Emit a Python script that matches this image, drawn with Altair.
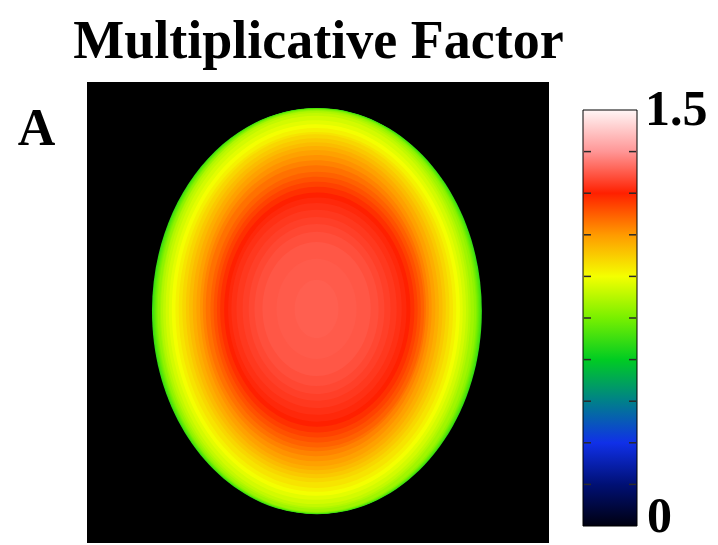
import altair as alt
import pandas as pd

# Colour map of the colour bar (value -> colour)
cmap_values = [0.0, 0.15, 0.30, 0.45, 0.60, 0.75, 0.90, 1.05, 1.20, 1.35, 1.50]
cmap_colors = ["#000010", "#001075", "#1030e8", "#00808a", "#00cc22", "#78f000",
               "#f4ff00", "#ff9a00", "#ff2000", "#ff9696", "#fff6f6"]
bar_ticks = [0.15, 0.30, 0.45, 0.60, 0.75, 0.90, 1.05, 1.20, 1.35]
bar_label_values = [0.0, 1.5]
bar_label_text = ["0", "1.5"]

# Iso-value contours of the multiplicative factor map (voxel units, 128 x 128 grid):
# value, centre (cx, cy) and half-widths (rx, ry) of each contour
ring_value = [0.66, 0.68, 0.70, 0.72, 0.74, 0.76, 0.78, 0.80, 0.82, 0.84,
              0.86, 0.88, 0.90, 0.92, 0.94, 0.96, 0.98, 1.00, 1.02, 1.04,
              1.06, 1.08, 1.10, 1.12, 1.14, 1.16, 1.18, 1.20, 1.21, 1.22,
              1.23, 1.24, 1.25, 1.26, 1.27, 1.275, 1.28]
ring_rx = [45.7, 45.5, 45.3, 45.0, 44.7, 44.4, 44.1, 43.5, 42.9, 42.3,
           41.6, 40.7, 39.9, 38.9, 38.0, 37.0, 36.0, 35.1, 34.1, 33.1,
           32.1, 31.3, 30.5, 29.6, 28.7, 27.8, 26.9, 25.8, 24.7, 23.6,
           22.2, 20.5, 18.8, 17.2, 15.0, 11.1, 6.1]
ring_ry = [56.4, 56.3, 56.3, 56.2, 56.1, 56.0, 55.9, 55.7, 55.2, 54.7,
           53.9, 52.7, 51.6, 50.5, 49.4, 48.3, 47.2, 46.1, 45.0, 43.9,
           42.5, 41.1, 39.7, 38.3, 36.9, 35.5, 34.1, 32.5, 31.1, 29.4,
           27.5, 25.5, 23.6, 21.4, 18.6, 13.9, 8.1]
ring_cx = [63.7, 63.7, 63.7, 63.7, 63.7, 63.7, 63.7, 63.7, 63.4, 63.4,
           63.4, 63.4, 63.4, 63.4, 63.4, 63.4, 63.4, 63.4, 63.4, 63.4,
           63.4, 63.4, 63.4, 63.8, 63.8, 63.8, 63.8, 63.8, 63.8, 63.6,
           63.6, 63.6, 63.6, 63.6, 63.6, 63.6, 63.6]
ring_cy = [63.6, 63.6, 63.6, 63.6, 63.6, 63.6, 63.6, 63.6, 63.3, 63.3,
           63.3, 63.3, 63.3, 63.3, 63.3, 62.8, 62.8, 62.8, 62.8, 62.8,
           62.8, 62.8, 62.8, 63.2, 63.2, 63.2, 63.2, 63.2, 63.2, 63.0,
           63.0, 63.0, 63.0, 63.0, 63.0, 63.0, 63.0]

GRID = 128
W, H = 462, 461
BAR_X, BAR_TOP, BAR_LEN, BAR_W = 496, 28, 416, 54
VMIN, VMAX = cmap_values[0], cmap_values[-1]


def ellipse_path(rx, ry):
    k = (rx * W) / (ry * H)
    return f"M {-k:.4f} 0 A {k:.4f} 1 0 1 0 {k:.4f} 0 A {k:.4f} 1 0 1 0 {-k:.4f} 0 Z"


rings = pd.DataFrame({
    "value": ring_value,
    "cx": ring_cx,
    "cy": ring_cy,
    "ry": ring_ry,
    "shape": [ellipse_path(a, b) for a, b in zip(ring_rx, ring_ry)],
})
ticks = pd.DataFrame({"v": bar_ticks})
labels = pd.DataFrame({"v": bar_label_values, "text": bar_label_text})
bar = pd.DataFrame({"lo": [VMIN], "hi": [VMAX]})

serif = "Liberation Serif"

map_layer = alt.Chart(rings).mark_point(filled=True, opacity=1, strokeWidth=0).encode(
    x=alt.X("cx:Q", scale=alt.Scale(domain=[0, GRID], nice=False, zero=False),
            axis=alt.Axis(orient="top", title="Multiplicative Factor", domain=False,
                          ticks=False, labels=False, grid=False, titleX=W / 2, titleY=-25,
                          titleAlign="center", titleBaseline="alphabetic", titleFont=serif,
                          titleFontSize=54, titleFontWeight="bold", titleColor="black")),
    y=alt.Y("cy:Q", scale=alt.Scale(domain=[0, GRID], nice=False, zero=False, reverse=True),
            axis=alt.Axis(title="A", domain=False, ticks=False, labels=False, grid=False,
                          titleAngle=0, titleX=-51, titleY=62, titleAlign="center",
                          titleBaseline="alphabetic", titleFont=serif, titleFontSize=52,
                          titleFontWeight="bold", titleColor="black")),
    size=alt.Size("ry:Q", scale=alt.Scale(type="pow", exponent=2, domain=[0, GRID],
                                          range=[0, (2 * H) ** 2]), legend=None),
    shape=alt.Shape("shape:N", scale=None, legend=None),
    order=alt.Order("value:Q", sort="ascending"),
    color=alt.Color("value:Q",
                    scale=alt.Scale(domain=cmap_values, range=cmap_colors, interpolate="rgb"),
                    legend=None),
)

# colour bar: a rectangle filled with the same colour map
bar_scale = alt.Scale(domain=[VMIN, VMAX], range=[BAR_TOP + BAR_LEN, BAR_TOP],
                      nice=False, zero=False)
gradient = alt.LinearGradient(
    gradient="linear", x1=0, y1=1, x2=0, y2=0,
    stops=[alt.GradientStop(offset=(v - VMIN) / (VMAX - VMIN), color=c)
           for v, c in zip(cmap_values, cmap_colors)],
)
bar_rect = alt.Chart(bar).mark_rect(fill=gradient, stroke="black", strokeWidth=1).encode(
    y=alt.Y("lo:Q", scale=bar_scale, axis=None), y2="hi:Q",
    x=alt.value(BAR_X), x2=alt.value(BAR_X + BAR_W),
)
tick_left = alt.Chart(ticks).mark_rule(color="#2a2a2a", strokeWidth=1.5).encode(
    y=alt.Y("v:Q", scale=bar_scale, axis=None),
    x=alt.value(BAR_X + 1), x2=alt.value(BAR_X + 8),
)
tick_right = alt.Chart(ticks).mark_rule(color="#2a2a2a", strokeWidth=1.5).encode(
    y=alt.Y("v:Q", scale=bar_scale, axis=None),
    x=alt.value(BAR_X + BAR_W - 8), x2=alt.value(BAR_X + BAR_W - 1),
)
label_style = dict(align="left", baseline="middle", font=serif, fontSize=50,
                   fontWeight="bold", color="black")
top_label = alt.Chart(labels).transform_filter(alt.datum.v > 0).mark_text(
    **label_style).encode(
    y=alt.Y("v:Q", scale=bar_scale, axis=None),
    x=alt.value(BAR_X + BAR_W + 8),
    text="text:N",
)
bottom_label = alt.Chart(labels).transform_filter(alt.datum.v <= 0).mark_text(
    dy=-9, **label_style).encode(
    y=alt.Y("v:Q", scale=bar_scale, axis=None),
    x=alt.value(BAR_X + BAR_W + 10),
    text="text:N",
)

chart = alt.layer(
    map_layer, bar_rect + tick_left + tick_right + top_label + bottom_label
).resolve_scale(
    y="independent"
).properties(
    width=W, height=H,
    padding={"left": 79, "top": 74, "right": 161, "bottom": 2},
    autosize=alt.AutoSizeParams(type="none"),
    background="white",
).configure_view(fill="black", stroke=None)

chart.save("out.html", embed_options={"renderer": "svg", "actions": False})
